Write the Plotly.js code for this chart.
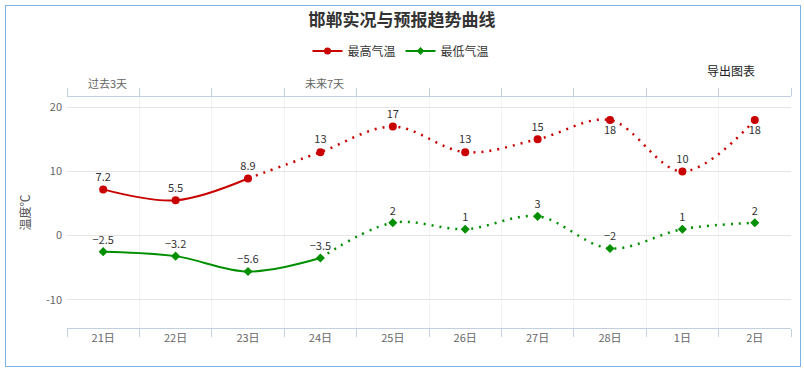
<!DOCTYPE html>
<html><head><meta charset="utf-8">
<script src="https://cdn.plot.ly/plotly-3.0.1.min.js"></script>
<style>
html,body{margin:0;padding:0;background:#fff;}
#wrap{position:relative;width:804px;height:370px;}
#chart{width:804px;height:370px;}
#frame{position:absolute;left:5px;top:5px;width:794px;height:360px;border:1px solid #7db3e8;pointer-events:none;}
</style></head>
<body><div id="wrap"><div id="chart"></div><div id="frame"></div></div>
<script>
const days = ['21日','22日','23日','24日','25日','26日','27日','28日','1日','2日'];
const highTemp = [7.2, 5.5, 8.9, 13, 17, 13, 15, 18, 10, 18];
const lowTemp = [-2.5, -3.2, -5.6, -3.5, 2, 1, 3, -2, 1, 2];
const highLabels = ['7.2','5.5','8.9','13','17','13','15','18','10','18'];
const lowLabels = ['−2.5','−3.2','−5.6','−3.5','2','1','3','−2','1','2'];
const highObservedCount = 3;   // solid part for max temp
const lowObservedCount = 4;    // solid part for min temp
const seriesNames = ['最高气温','最低气温'];
const periodLabels = ['过去3天','未来7天'];
const periodAt = ['21日','24日'];

const RED = '#c80000', GREEN = '#008f00';
const FONT = '"Noto Sans CJK SC", "Noto Sans", sans-serif';
const DOTS = '2px,6px';

function part(arr, a, b){ return arr.slice(a, b); }

const highPos = highTemp.map((v,i)=> (i===7||i===9) ? 'bottom center' : 'top center');

const traces = [
  {x: part(days,0,highObservedCount), y: part(highTemp,0,highObservedCount), mode:'lines', line:{color:RED,width:2,shape:'spline'}, showlegend:false, hoverinfo:'skip'},
  {x: part(days,highObservedCount-1), y: part(highTemp,highObservedCount-1), mode:'lines', line:{color:RED,width:2.5,shape:'spline',dash:DOTS}, showlegend:false, hoverinfo:'skip'},
  {x: part(days,0,lowObservedCount), y: part(lowTemp,0,lowObservedCount), mode:'lines', line:{color:GREEN,width:2,shape:'spline'}, showlegend:false, hoverinfo:'skip'},
  {x: part(days,lowObservedCount-1), y: part(lowTemp,lowObservedCount-1), mode:'lines', line:{color:GREEN,width:2.5,shape:'spline',dash:DOTS}, showlegend:false, hoverinfo:'skip'},
  {x: days, y: highTemp, mode:'markers+text', text: highLabels, textposition: highPos,
   textfont:{family:FONT,size:11,color:'#333'}, marker:{color:RED,size:8,symbol:'circle'}, showlegend:false, cliponaxis:false},
  {x: days, y: lowTemp, mode:'markers+text', text: lowLabels, textposition:'top center',
   textfont:{family:FONT,size:11,color:'#333'}, marker:{color:GREEN,size:7,symbol:'diamond'}, showlegend:false, cliponaxis:false},
  {x:[null], y:[null], mode:'lines+markers', name: seriesNames[0], line:{color:RED,width:2}, marker:{color:RED,size:7,symbol:'circle'}},
  {x:[null], y:[null], mode:'lines+markers', name: seriesNames[1], line:{color:GREEN,width:2}, marker:{color:GREEN,size:6,symbol:'diamond'}},
  {x: days, y: highTemp, xaxis:'x2', mode:'markers', marker:{opacity:0}, showlegend:false, hoverinfo:'skip'}
];

const PLOT_TOP = 97, PLOT_BOTTOM = 328, PLOT_L = 67, PLOT_R = 791;
const py = p => (PLOT_BOTTOM - p) / (PLOT_BOTTOM - PLOT_TOP);
const px = p => (p - PLOT_L) / (PLOT_R - PLOT_L);

const layout = {
  width:804, height:370,
  margin:{l:PLOT_L, r:804-PLOT_R, t:PLOT_TOP, b:370-PLOT_BOTTOM},
  paper_bgcolor:'#fff', plot_bgcolor:'#fff',
  font:{family:FONT, color:'#666'},
  title:{text:'邯郸实况与预报趋势曲线', font:{family:FONT,size:17,color:'#333',weight:'bold'}, x:0.5, xanchor:'center', y:1-20/370, yanchor:'middle', yref:'container'},
  showlegend:true,
  legend:{orientation:'h', x:px(401), xanchor:'center', y:1-51/370, yanchor:'middle', yref:'container', font:{family:FONT,size:12,color:'#333'}},
  xaxis:{type:'category', categoryarray:days, range:[-0.5,9.5], tickson:'boundaries', ticks:'outside', ticklen:8, tickcolor:'#c0d0e0',
    showline:true, linecolor:'#c0d0e0', linewidth:1, showgrid:true, gridcolor:'#f2f2f2', zeroline:false,
    tickfont:{family:FONT,size:11,color:'#666'}, fixedrange:true},
  xaxis2:{type:'category', categoryarray:days, overlaying:'x', side:'top', range:[-0.5,9.5], tickson:'boundaries', ticks:'outside', ticklen:8, tickcolor:'#c0d0e0',
    showline:true, linecolor:'#c0d0e0', linewidth:1, showgrid:false, showticklabels:false, zeroline:false},
  yaxis:{range:[-14.4,21.6], tickvals:[-10,0,10,20], ticktext:['-10','0','10','20'], showgrid:true, gridcolor:'#e6e6e6', zeroline:false,
    showline:false, ticks:'', tickfont:{family:FONT,size:11,color:'#666'}, ticklabelstandoff:4,
    title:{text:'温度℃', font:{family:FONT,size:12,color:'#555'}, standoff:12}},
  annotations:[
    {text:periodLabels[0], x:periodAt[0], xref:'x', xshift:4, y:py(83), yref:'paper', yanchor:'middle', showarrow:false, font:{family:FONT,size:11,color:'#666'}},
    {text:periodLabels[1], x:periodAt[1], xref:'x', xshift:4, y:py(83), yref:'paper', yanchor:'middle', showarrow:false, font:{family:FONT,size:11,color:'#666'}},
    {text:'导出图表', x:px(731), xref:'paper', xanchor:'center', y:py(70), yref:'paper', yanchor:'middle', showarrow:false, font:{family:FONT,size:12,color:'#222'}}
  ]
};

Plotly.newPlot('chart', traces, layout, {displayModeBar:false, staticPlot:true});
</script></body></html>
